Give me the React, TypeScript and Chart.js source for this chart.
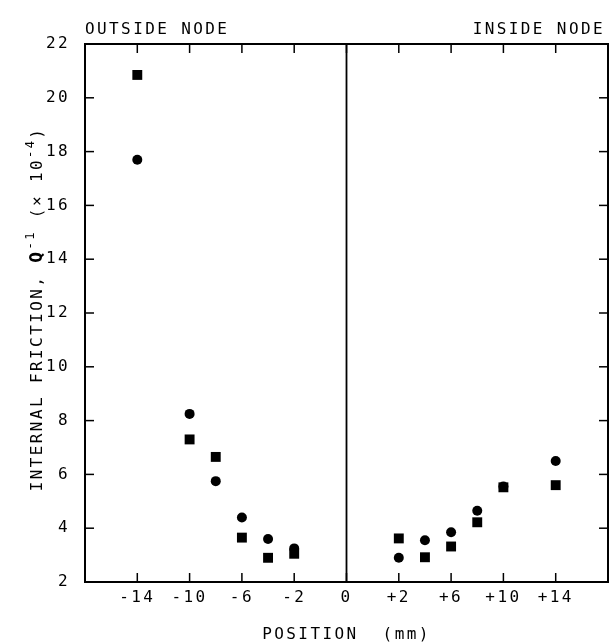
import React, { useEffect, useRef } from 'react';
import { Chart, registerables } from 'chart.js';

Chart.register(...registerables);

// ---- data ----
const xTickPositions = [-14, -10, -6, -2, 0, 2, 6, 10, 14];
const xTickLabels = ['-14', '-10', '-6', '-2', '0', '+2', '+6', '+10', '+14'];
const yMin = 2;
const yMax = 22;
const yStep = 2;

const positions = [-14, -10, -8, -6, -4, -2, 2, 4, 6, 8, 10, 14];
const circleValues = [17.7, 8.25, 5.75, 4.4, 3.6, 3.25, 2.9, 3.55, 3.85, 4.65, 5.55, 6.5];
const squareValues = [20.85, 7.3, 6.65, 3.65, 2.9, 3.05, 3.62, 2.92, 3.32, 4.22, 5.52, 5.6];

const topLeftLabel = 'OUTSIDE NODE';
const topRightLabel = 'INSIDE NODE';
const xTitle = 'POSITION  (mm)';

// broken position axis: the tick marks -14,-10,-6,-2,0,+2,+6,+10,+14 are equally spaced
function toAxis(mm: number): number {
  if (mm === 0) return 0;
  return mm < 0 ? (mm - 2) / 4 : (mm + 2) / 4;
}

const FAMILY = '"DejaVu Sans Mono", monospace';
const SPACING = '2.4px';

function line(ctx: CanvasRenderingContext2D, x1: number, y1: number, x2: number, y2: number) {
  ctx.beginPath();
  ctx.moveTo(x1, y1);
  ctx.lineTo(x2, y2);
  ctx.stroke();
}

const decor = {
  id: 'decor',
  beforeDraw(chart: any) {
    (chart.ctx as any).letterSpacing = SPACING;
  },
  afterDraw(chart: any) {
    const ctx: CanvasRenderingContext2D = chart.ctx;
    const a = chart.chartArea;
    const xs = chart.scales.x;
    const ys = chart.scales.y;
    ctx.save();
    ctx.strokeStyle = '#000';
    ctx.lineWidth = 2;
    ctx.strokeRect(a.left, a.top, a.right - a.left, a.bottom - a.top);
    const x0 = xs.getPixelForValue(toAxis(0));
    ctx.lineWidth = 1.8;
    line(ctx, x0, a.top, x0, a.bottom);
    ctx.lineWidth = 1.5;
    const tl = 9;
    xTickPositions.forEach((m) => {
      const px = xs.getPixelForValue(toAxis(m));
      line(ctx, px, a.bottom, px, a.bottom - tl);
      line(ctx, px, a.top, px, a.top + tl);
    });
    ys.ticks.forEach((t: any) => {
      const py = ys.getPixelForValue(t.value);
      line(ctx, a.left, py, a.left + tl, py);
      line(ctx, a.right, py, a.right - tl, py);
    });

    // texts
    (ctx as any).letterSpacing = SPACING;
    ctx.fillStyle = '#000';
    ctx.font = `16px ${FAMILY}`;
    ctx.textBaseline = 'alphabetic';
    ctx.textAlign = 'left';
    ctx.fillText(topLeftLabel, a.left, 34);
    ctx.textAlign = 'right';
    ctx.fillText(topRightLabel, a.right - 3, 34);
    ctx.textAlign = 'center';
    ctx.fillText(xTitle, x0, 639);

    // y title (rotated, with superscripts)
    const segs = [
      { t: 'INTERNAL FRICTION, ', f: `16px ${FAMILY}`, dy: 0 },
      { t: 'Q', f: `bold 18px ${FAMILY}`, dy: 0 },
      { t: '-1', f: `12px ${FAMILY}`, dy: -8 },
      { t: ' (× 10', f: `16px ${FAMILY}`, dy: 0 },
      { t: '-4', f: `12px ${FAMILY}`, dy: -8 },
      { t: ')', f: `16px ${FAMILY}`, dy: 0 },
    ];
    let total = 0;
    const widths = segs.map((s) => {
      ctx.font = s.f;
      const w = ctx.measureText(s.t).width;
      total += w;
      return w;
    });
    const cy = (a.top + a.bottom) / 2 - 4;
    ctx.translate(42, cy);
    ctx.rotate(-Math.PI / 2);
    ctx.textAlign = 'left';
    ctx.textBaseline = 'alphabetic';
    let cx = -total / 2;
    segs.forEach((s, i) => {
      ctx.font = s.f;
      ctx.fillText(s.t, cx, s.dy);
      cx += widths[i];
    });
    ctx.restore();
    (ctx as any).letterSpacing = '0px';
  },
};

export default function App() {
  const ref = useRef<HTMLCanvasElement | null>(null);
  useEffect(() => {
    if (!ref.current) return;
    const chart = new Chart(ref.current, {
      type: 'scatter',
      data: {
        datasets: [
          {
            label: 'circles',
            data: positions.map((p, i) => ({ x: toAxis(p), y: circleValues[i] })),
            pointStyle: 'circle',
            pointRadius: 5,
            backgroundColor: '#000',
            borderColor: '#000',
            borderWidth: 0,
          },
          {
            label: 'squares',
            data: positions.map((p, i) => ({ x: toAxis(p), y: squareValues[i] })),
            pointStyle: 'rect',
            pointRadius: 7,
            backgroundColor: '#000',
            borderColor: '#000',
            borderWidth: 0,
          },
        ],
      },
      options: {
        responsive: false,
        animation: false,
        events: [],
        layout: { padding: { top: 44, right: 4, bottom: 0, left: 0 } },
        plugins: { legend: { display: false }, tooltip: { enabled: false } },
        scales: {
          x: {
            type: 'linear',
            min: toAxis(-18),
            max: toAxis(18),
            grid: { display: false, drawTicks: false },
            border: { display: false },
            afterBuildTicks: (scale: any) => {
              scale.ticks = xTickPositions.map((m) => ({ value: toAxis(m) }));
            },
            afterFit: (scale: any) => {
              scale.height = 62;
            },
            ticks: {
              autoSkip: false,
              maxRotation: 0,
              padding: 6,
              color: '#000',
              font: { family: FAMILY, size: 16 },
              callback: (_v: any, i: number) => xTickLabels[i],
            },
          },
          y: {
            type: 'linear',
            min: yMin,
            max: yMax,
            grid: { display: false, drawTicks: false },
            border: { display: false },
            afterFit: (scale: any) => {
              scale.width = 85;
            },
            ticks: {
              stepSize: yStep,
              padding: 15,
              color: '#000',
              font: { family: FAMILY, size: 16 },
            },
          },
        },
      },
      plugins: [decor],
    } as any);
    return () => chart.destroy();
  }, []);
  return (
    <div style={{ position: 'absolute', left: 0, top: 0, width: 615, height: 644, background: '#fff' }}>
      <canvas ref={ref} width={615} height={644} style={{ display: 'block', width: 615, height: 644 }} />
    </div>
  );
}
